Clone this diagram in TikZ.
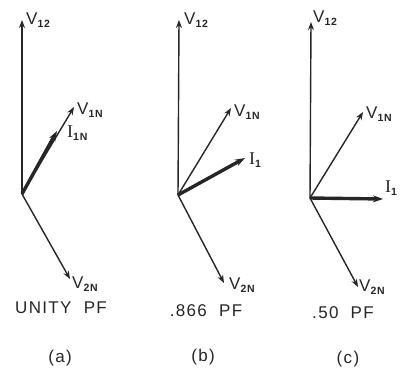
\documentclass[tikz,border=0pt]{standalone}
\usepackage{fontspec}
\setmainfont{Liberation Sans}[LetterSpace=8]
\newfontfamily\serifI{Liberation Serif}
\usetikzlibrary{arrows.meta}
\newcommand\subs[1]{\raisebox{-0.35ex}{\fontsize{10.5}{10.5}\selectfont\bfseries #1}}
\newcommand\cI{{\fontsize{18}{18}\selectfont\serifI I}}
\begin{document}
\begin{tikzpicture}[x=1pt,y=-1pt,
  vec/.style={-{Stealth[length=8pt,width=6pt]}, line width=1.4pt, black!85},
  cur/.style={-{Stealth[length=10pt,width=7pt]}, line width=3.4pt, black!85},
  lbl/.style={anchor=west, inner sep=0pt, font=\fontsize{17}{17}\selectfont, text=black!85},
  capt/.style={inner sep=0pt, font=\fontsize{17}{17}\selectfont, text=black!85}]
\useasboundingbox (0,0) rectangle (403,375);
% (a)
\coordinate (Oa) at (22,194);
\coordinate (Va12) at (22,20);
\coordinate (Va1) at (74,107);
\coordinate (Ia1) at (57,131);
\coordinate (Va2) at (70,279);
\draw[vec] (Oa) -- (Va12);
\draw[vec] (Oa) -- (Va1);
\draw[cur] (Oa) -- (Ia1);
\draw[vec] (Oa) -- (Va2);
\node[lbl] (la12) at (26,20) {V\subs{12}};
\node[lbl] (la1) at (77,110) {V\subs{1N}};
\node[lbl] (lai) at (67,133) {\cI\subs{1N}};
\node[lbl] (la2) at (72,284) {V\subs{2N}};
\node[capt] (capa) at (61,308) {UNITY\ \ PF};
\node[capt] (taga) at (60,358) {(a)};
% (b)
\coordinate (Ob) at (178,195);
\coordinate (Vb12) at (179,20);
\coordinate (Vb1) at (231,108);
\coordinate (Ib1) at (245,158);
\coordinate (Vb2) at (224,283);
\draw[vec] (Ob) -- (Vb12);
\draw[vec] (Ob) -- (Vb1);
\draw[cur] (Ob) -- (Ib1);
\draw[vec] (Ob) -- (Vb2);
\node[lbl] (lb12) at (184,20) {V\subs{12}};
\node[lbl] (lb1) at (234,112) {V\subs{1N}};
\node[lbl] (lbi) at (249,160) {\cI\subs{1}};
\node[lbl] (lb2) at (229,285) {V\subs{2N}};
\node[capt] (capb) at (206,311) {.866\ \ PF};
\node[capt] (tagb) at (203,357) {(b)};
% (c)
\coordinate (Oc) at (310,198);
\coordinate (Vc12) at (311,22);
\coordinate (Vc1) at (363,112);
\coordinate (Ic1) at (383,199);
\coordinate (Vc2) at (358,287);
\draw[vec] (Oc) -- (Vc12);
\draw[vec] (Oc) -- (Vc1);
\draw[cur] (Oc) -- (Ic1);
\draw[vec] (Oc) -- (Vc2);
\node[lbl] (lc12) at (313,18) {V\subs{12}};
\node[lbl] (lc1) at (366,114) {V\subs{1N}};
\node[lbl] (lci) at (385,188) {\cI\subs{1}};
\node[lbl] (lc2) at (359,287) {V\subs{2N}};
\node[capt] (capc) at (343,313) {.50\ \ PF};
\node[capt] (tagc) at (348,359) {(c)};
\end{tikzpicture}
\end{document}
